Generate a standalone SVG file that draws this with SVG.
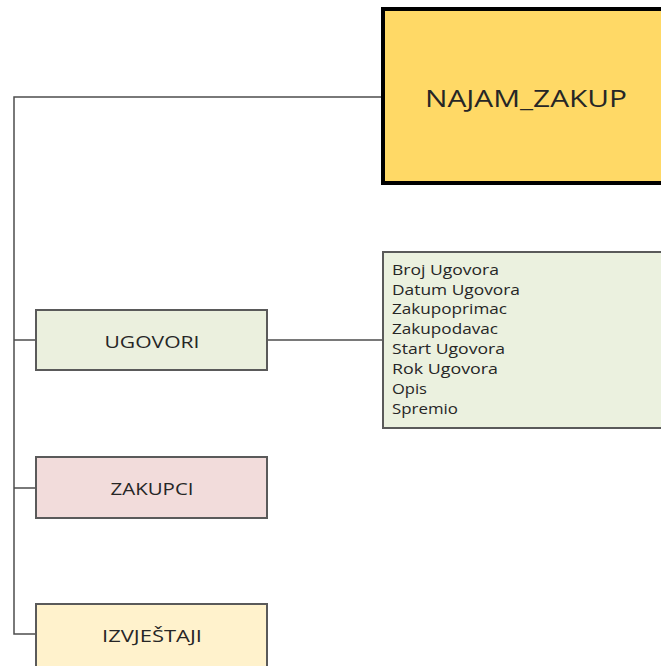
<svg xmlns="http://www.w3.org/2000/svg" width="661" height="666" viewBox="0 0 661 666">
<style>
.lbl{font-family:"Open Sans","Liberation Sans",sans-serif;fill:#262626;text-anchor:middle;dominant-baseline:central}
.box{stroke:#5a5a5a;stroke-width:2}
.con{stroke:#4d4d4d;stroke-width:1.5;fill:none}
.it{font-family:"Open Sans","Liberation Sans",sans-serif;font-size:14px;fill:#262626}
</style>
<rect width="661" height="666" fill="#ffffff"/>
<g id="connectors">
<path class="con" d="M384 97 H14 V634 H36"/>
<path class="con" d="M14 340 H36"/>
<path class="con" d="M14 488 H36"/>
<path class="con" d="M267 340 H383"/>
</g>
<g id="najam_zakup">
<rect x="383" y="9" width="284" height="174" fill="#ffd966" stroke="#000" stroke-width="4"/>
<text class="lbl" x="526" y="97" font-size="24" textLength="202" lengthAdjust="spacingAndGlyphs">NAJAM_ZAKUP</text>
</g>
<g id="ugovori">
<rect class="box" x="36" y="310" width="231" height="60" fill="#ebf0de"/>
<text class="lbl" x="152" y="341" font-size="17" textLength="95" lengthAdjust="spacingAndGlyphs">UGOVORI</text>
</g>
<g id="ugovori_detalji">
<rect class="box" x="383" y="252" width="284" height="176" fill="#ebf1df"/>
<text class="it" x="392" y="275" textLength="107" lengthAdjust="spacingAndGlyphs">Broj Ugovora</text>
<text class="it" x="392" y="295" textLength="128" lengthAdjust="spacingAndGlyphs">Datum Ugovora</text>
<text class="it" x="392" y="314" textLength="115" lengthAdjust="spacingAndGlyphs">Zakupoprimac</text>
<text class="it" x="392" y="334" textLength="106" lengthAdjust="spacingAndGlyphs">Zakupodavac</text>
<text class="it" x="392" y="354" textLength="113" lengthAdjust="spacingAndGlyphs">Start Ugovora</text>
<text class="it" x="392" y="374" textLength="106" lengthAdjust="spacingAndGlyphs">Rok Ugovora</text>
<text class="it" x="392" y="394" textLength="35" lengthAdjust="spacingAndGlyphs">Opis</text>
<text class="it" x="392" y="414" textLength="66" lengthAdjust="spacingAndGlyphs">Spremio</text>
</g>
<g id="zakupci">
<rect class="box" x="36" y="457" width="231" height="61" fill="#f2dcdb"/>
<text class="lbl" x="152" y="488" font-size="17" textLength="83" lengthAdjust="spacingAndGlyphs">ZAKUPCI</text>
</g>
<g id="izvjestaji">
<rect class="box" x="36" y="604" width="231" height="70" fill="#fff2cc"/>
<text class="lbl" x="152" y="635" font-size="17" textLength="100" lengthAdjust="spacingAndGlyphs">IZVJEŠTAJI</text>
</g>
</svg>
